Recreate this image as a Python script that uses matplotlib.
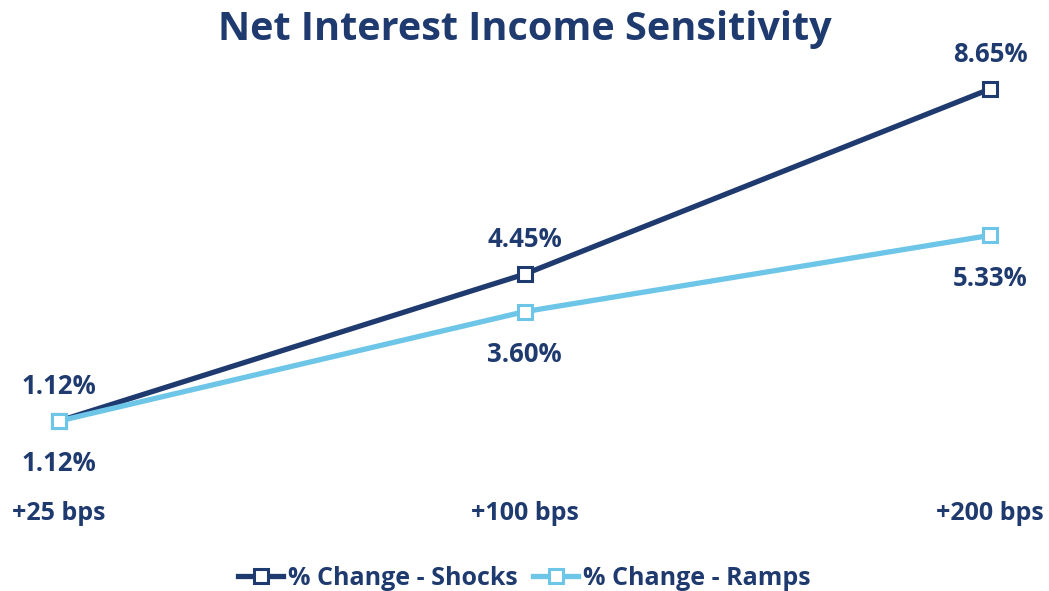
import matplotlib
matplotlib.use("Agg")
import matplotlib.pyplot as plt
from matplotlib.lines import Line2D

categories = ["+25 bps", "+100 bps", "+200 bps"]
shocks = [1.12, 4.45, 8.65]
ramps = [1.12, 3.60, 5.33]
series_names = ["% Change - Shocks", "% Change - Ramps"]

NAVY = "#1F3A6E"
LIGHT = "#6DC5E8"
TEXT = "#1F3A6E"

plt.rcParams['font.family'] = ['Open Sans', 'DejaVu Sans']

fig = plt.figure(figsize=(10.49, 5.91), dpi=100)
ax = fig.add_axes([0.0562, 0.2041, 0.8876, 0.7460])
x = list(range(len(categories)))

ax.plot(x, shocks, color=NAVY, lw=3.8, marker="s", ms=10, mfc="white",
        mec=NAVY, mew=2.2, zorder=3, label=series_names[0], solid_capstyle="round")
ax.plot(x, ramps, color=LIGHT, lw=3.8, marker="s", ms=10, mfc="white",
        mec=LIGHT, mew=2.2, zorder=4, label=series_names[1], solid_capstyle="round")

FS = 18
for xi, v in zip(x, shocks):
    ax.annotate(f"{v:.2f}%", (xi, v), xytext=(0, 15), textcoords="offset points",
                ha="center", va="bottom", fontsize=FS + 0.5, fontweight="bold", color=TEXT)
for xi, v in zip(x, ramps):
    ax.annotate(f"{v:.2f}%", (xi, v), xytext=(0, -21), textcoords="offset points",
                ha="center", va="top", fontsize=FS + 0.5, fontweight="bold", color=TEXT)

ax.set_xlim(0, 2)
ax.set_ylim(0, 10)
ax.set_xticks(x)
ax.set_xticklabels(categories, fontsize=FS, fontweight="bold", color=TEXT)
ax.tick_params(axis="x", length=0, pad=22)
ax.set_yticks([])
for s in ax.spines.values():
    s.set_visible(False)
for ln in ax.lines:
    ln.set_clip_on(False)

fig.suptitle("Net Interest Income Sensitivity", x=0.5, y=0.983, fontsize=28.5,
             fontweight="bold", color=TEXT, va="top")

handles = [Line2D([], [], color=NAVY, lw=3.8, marker="s", ms=9.5, mfc="white", mec=NAVY, mew=2.2),
           Line2D([], [], color=LIGHT, lw=3.8, marker="s", ms=9.5, mfc="white", mec=LIGHT, mew=2.2)]
leg = fig.legend(handles, series_names, loc="center", bbox_to_anchor=(0.5, 0.021),
                 ncol=2, frameon=False, handlelength=1.8, handletextpad=0.2,
                 columnspacing=0.6, prop={"size": FS, "weight": "bold"})
for t in leg.get_texts():
    t.set_color(TEXT)

fig.savefig("out.png", dpi=100)
